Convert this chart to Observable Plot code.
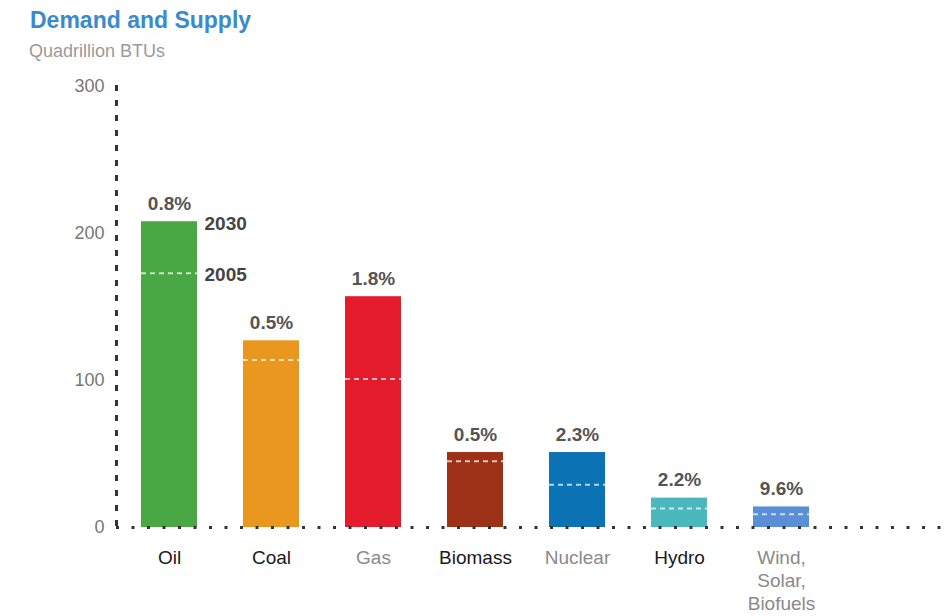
<!DOCTYPE html>
<html>
<head>
<meta charset="utf-8">
<script src="https://cdn.jsdelivr.net/npm/d3@7"></script>
<script src="https://cdn.jsdelivr.net/npm/@observablehq/plot@0.6"></script>
<style>
  html, body { margin: 0; padding: 0; background: #fff; }
  #wrap { position: relative; width: 947px; height: 616px; font-family: "Liberation Sans", Arial, Helvetica, sans-serif; }
  #title { position: absolute; left: 30px; top: 6px; font-size: 23px; font-weight: bold; color: #3a8bcb; line-height: 28px; white-space: nowrap; }
  #subtitle { position: absolute; left: 29px; top: 39px; font-size: 18px; color: #9a9a9a; line-height: 24px; white-space: nowrap; }
  #chart { position: absolute; left: 0; top: 64px; }
</style>
</head>
<body>
<div id="wrap">
  <div id="title">Demand and Supply</div>
  <div id="subtitle">Quadrillion BTUs</div>
  <div id="chart"></div>
</div>
<script>
const categories = ["Oil", "Coal", "Gas", "Biomass", "Nuclear", "Hydro", "Wind,\nSolar,\nBiofuels"];
const values2030 = [208, 127, 157, 51, 51, 20, 14];
const values2005 = [173, 114, 101, 45, 29, 13, 9];
const growth = ["0.8%", "0.5%", "1.8%", "0.5%", "2.3%", "2.2%", "9.6%"];
const barColors = ["#4aa844", "#e9971f", "#e31b2c", "#9c3117", "#0b72b4", "#4ab8bd", "#5a8fd8"];
const labelColors = ["#1a1a1a", "#1a1a1a", "#8a8a8a", "#1a1a1a", "#8a8a8a", "#1a1a1a", "#8a8a8a"];
const yTicks = [0, 100, 200, 300];
const yearLabels = ["2030", "2005"];

const data = categories.map((c, i) => ({
  cat: c, v2030: values2030[i], v2005: values2005[i], pct: growth[i],
  color: barColors[i], labelColor: labelColors[i]
}));
const yearData = [
  {cat: categories[0], year: yearLabels[0], v: values2030[0]},
  {cat: categories[0], year: yearLabels[1], v: values2005[0]}
];

const font = '"Liberation Sans", Arial, Helvetica, sans-serif';

const plot = Plot.plot({
  width: 947,
  height: 552,
  marginTop: 22,
  marginBottom: 89,
  marginLeft: 116,
  marginRight: 0,
  style: {fontFamily: font, background: "transparent", overflow: "visible"},
  x: {domain: categories, range: [116, 834], paddingInner: 0.45, paddingOuter: 0.225, axis: null},
  y: {domain: [0, 300], axis: null},
  color: {type: "identity"},
  marks: [
    Plot.frame({anchor: "left", stroke: "#333", strokeWidth: 3, strokeDasharray: "3,12"}),
    Plot.axisY({ticks: yTicks, tickSize: 0, tickPadding: 12, fontSize: 18, fill: "#777", tickFormat: d => d}),
    Plot.barY(data, {x: "cat", y: "v2030", fill: "color"}),
    Plot.tickY(data, {x: "cat", y: "v2005", stroke: "#ffffff", strokeOpacity: 0.7, strokeWidth: 2, strokeDasharray: "5,4"}),
    Plot.ruleY([0], {stroke: "#333", strokeWidth: 3, strokeDasharray: "3,12.5"}),
    Plot.text(data, {x: "cat", y: "v2030", text: "pct", dy: -18, fontSize: 19, fontWeight: "bold", fill: "#555"}),
    Plot.text(yearData, {x: "cat", y: "v", text: "year", dx: 35, dy: 2, textAnchor: "start", fontSize: 19, fontWeight: "bold", fill: "#444"}),
    Plot.text(data, {x: "cat", y: () => 0, text: "cat", fill: "labelColor", lineAnchor: "top", dy: 20, fontSize: 19, lineHeight: 1.21})
  ]
});
document.getElementById("chart").appendChild(plot);
</script>
</body>
</html>
